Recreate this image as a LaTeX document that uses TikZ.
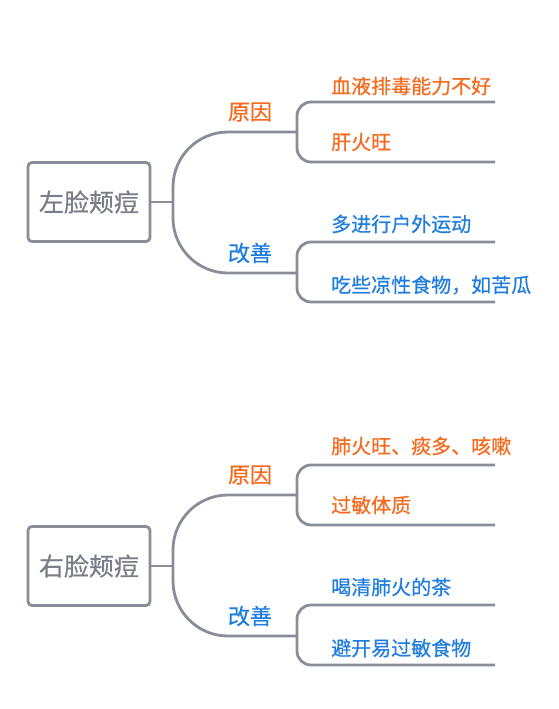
\documentclass[tikz,border=0pt]{standalone}
\usepackage{fontspec}
\setmainfont[FakeBold=0.6]{Noto Sans CJK SC}
\definecolor{mmgray}{RGB}{137,141,152}
\definecolor{mmtext}{RGB}{122,126,136}
\definecolor{mmorange}{RGB}{245,106,30}
\definecolor{mmblue}{RGB}{30,125,222}
\tikzset{
  rootbox/.style={rectangle, rounded corners=4pt, draw=mmgray, line width=2.8pt, minimum width=122pt, minimum height=79pt, inner sep=0pt, text=mmtext, font=\fontsize{25}{30}\selectfont},
  branch/.style={draw=mmgray, line width=2.8pt},
  bigbrace/.style={branch, rounded corners=55pt},
  smallbrace/.style={branch, rounded corners=14pt},
  causetext/.style={inner sep=0pt, text=mmorange, font=\fontsize{22}{26}\selectfont},
  fixtext/.style={inner sep=0pt, text=mmblue, font=\fontsize{22}{26}\selectfont},
  causeleaf/.style={anchor=west, inner sep=0pt, text=mmorange, font=\fontsize{20}{24}\selectfont},
  fixleaf/.style={anchor=west, inner sep=0pt, text=mmblue, font=\fontsize{20}{24}\selectfont}
}

\begin{document}
\begin{tikzpicture}[x=1pt, y=-1pt]
\useasboundingbox (0,0) rectangle (558,709);

\node[rootbox] (lroot) at (89,202) {左脸颊痘};
\coordinate (lhub) at (173,202);
\coordinate (lcause) at (297,132);
\coordinate (lfix) at (297,273);
\coordinate (lcause1) at (495,102);
\coordinate (lcause2) at (495,162);
\coordinate (lfix1) at (495,242);
\coordinate (lfix2) at (495,302);
\draw[branch] (lroot.east) -- (lhub);
\draw[bigbrace] (lhub) |- (lcause);
\draw[bigbrace] (lhub) |- (lfix);
\draw[smallbrace] (lcause) |- (lcause1);
\draw[smallbrace] (lcause) |- (lcause2);
\draw[smallbrace] (lfix) |- (lfix1);
\draw[smallbrace] (lfix) |- (lfix2);
\node[causetext] (lcauselbl) at (250,112) {原因};
\node[fixtext] (lfixlbl) at (250,253) {改善};
\node[causeleaf] (lc1) at (331,86) {血液排毒能力不好};
\node[causeleaf] (lc2) at (331,142) {肝火旺};
\node[fixleaf] (lf1) at (331,224) {多进行户外运动};
\node[fixleaf] (lf2) at (331,285) {吃些凉性食物，如苦瓜};

\begin{scope}[shift={(0,363)}]
\node[rootbox] (rroot) at (89,203) {右脸颊痘};
\coordinate (rhub) at (173,203);
\coordinate (rcause) at (297,132);
\coordinate (rfix) at (297,273);
\coordinate (rcause1) at (495,102);
\coordinate (rcause2) at (495,162);
\coordinate (rfix1) at (495,242);
\coordinate (rfix2) at (495,302);
\draw[branch] (rroot.east) -- (rhub);
\draw[bigbrace] (rhub) |- (rcause);
\draw[bigbrace] (rhub) |- (rfix);
\draw[smallbrace] (rcause) |- (rcause1);
\draw[smallbrace] (rcause) |- (rcause2);
\draw[smallbrace] (rfix) |- (rfix1);
\draw[smallbrace] (rfix) |- (rfix2);
\node[causetext] (rcauselbl) at (250,112) {原因};
\node[fixtext] (rfixlbl) at (250,253) {改善};
\node[causeleaf] (rc1) at (331,83) {肺火旺、痰多、咳嗽};
\node[causeleaf] (rc2) at (331,142) {过敏体质};
\node[fixleaf] (rf1) at (331,224) {喝清肺火的茶};
\node[fixleaf] (rf2) at (331,285) {避开易过敏食物};
\end{scope}
\end{tikzpicture}
\end{document}
